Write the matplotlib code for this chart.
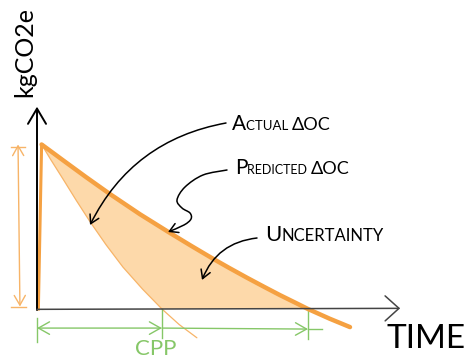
import matplotlib
matplotlib.use("Agg")
import matplotlib.pyplot as plt
import numpy as np
from matplotlib.path import Path
from matplotlib.patches import FancyArrowPatch
from matplotlib.transforms import IdentityTransform
from matplotlib.offsetbox import TextArea, HPacker, AnnotationBbox

# ---------------- data ----------------
peak = 100.0
pred_t = [0.17, 0.6, 0.97, 1.8, 2.69, 3.8, 4.91, 5.7, 6.49, 7.1, 7.75, 8.4, 8.97, 9.5, 10.0, 10.8, 11.55]
pred_v = [100, 94.8, 90.3, 80.3, 69.9, 57.6, 46.2, 38.3, 30.6, 24.9, 19.0, 13.3, 8.4, 4.1, 0, -5.9, -11.0]
act_t = [0.17, 0.5, 0.96, 1.45, 1.96, 2.55, 3.17, 3.9, 4.61, 5.25, 5.9]
act_v = [100, 91, 79, 66, 53, 39, 25.5, 12, 0, -9.5, -17.5]
cpp_t = 4.61        # actual crosses zero
pred_end_t = 10.0   # predicted crosses zero

ORANGE = "#F5A142"
ORANGE_L = "#F7B468"
FILL = "#FDD9AA"
GREEN = "#86C768"
FONT = ["Lato", "DejaVu Sans"]
W = "normal"

fig = plt.figure(figsize=(4.70, 3.61), dpi=100)
ax = fig.add_axes([0, 0, 1, 1])
ax.set_xlim(-37 / 27.1, 433 / 27.1)
ax.set_ylim(-52 / 1.645, 309 / 1.645)
ax.axis("off")

def px(x, y):
    return ((x - 37) / 27.1, (309 - y) / 1.645)

pt = np.array(pred_t); pv = np.array(pred_v)
at = np.array(act_t); av = np.array(act_v)

# uncertainty fill: between predicted (top) and actual / axis (bottom), above zero
mp = pv >= 0
ma = av >= 0
poly_t = np.concatenate([pt[mp], [cpp_t], at[ma][::-1]])
poly_v = np.concatenate([pv[mp], [0], av[ma][::-1]])
ax.fill(poly_t, poly_v, color=FILL, lw=0, zorder=1)

# curves
ax.plot(at, av, color=ORANGE_L, lw=0.9, zorder=2, solid_capstyle="round")
ax.plot(pt, pv, color=ORANGE, lw=3.2, zorder=3, solid_capstyle="round",
        solid_joinstyle="round")
ax.plot([0.05, pt[0]], [0, peak], color=ORANGE, lw=2.2, zorder=3)

# axes
ax.annotate("", xy=(0, 123), xytext=(0, -0.6),
            arrowprops=dict(arrowstyle="->,head_length=1.1,head_width=0.65",
                            color="black", lw=1.4, shrinkA=0, shrinkB=0), zorder=4)
ax.annotate("", xy=(13.4, 0.4), xytext=(0, -0.2),
            arrowprops=dict(arrowstyle="->,head_length=1.0,head_width=0.9",
                            color="#444444", lw=1.1, shrinkA=0, shrinkB=0), zorder=4)

# left magnitude marker
xm = -0.70
ax.annotate("", xy=(xm, peak), xytext=(xm + 0.07, 1.5),
            arrowprops=dict(arrowstyle="<->,head_length=0.7,head_width=0.4",
                            color=ORANGE_L, lw=1.0, shrinkA=0, shrinkB=0))
ax.plot([xm - 0.26, xm + 0.26], [peak - 1.5, peak - 1.5], color=ORANGE_L, lw=1.0)
ax.plot([xm - 0.26, xm + 0.3], [1.2, 1.2], color=ORANGE_L, lw=1.0)

# CPP dimension (green)
yd = -11.6
ax.plot([0, 0], [-5.5, -20], color=GREEN, lw=1.0)
ax.plot([cpp_t, cpp_t], [0, -17.5], color=GREEN, lw=1.0)
ax.plot([pred_end_t, pred_end_t], [0, -18], color=GREEN, lw=1.0)
ax.annotate("", xy=(0, yd), xytext=(cpp_t, yd),
            arrowprops=dict(arrowstyle="<->,head_length=0.8,head_width=0.45",
                            color=GREEN, lw=1.0, shrinkA=0, shrinkB=0))
ax.annotate("", xy=(pred_end_t, yd - 0.6), xytext=(cpp_t, yd),
            arrowprops=dict(arrowstyle="->,head_length=0.8,head_width=0.45",
                            color=GREEN, lw=1.0, shrinkA=0, shrinkB=0))
ax.plot([pred_end_t, pred_end_t + 0.52], [yd - 0.6, yd - 0.6], color=GREEN, lw=1.0)
ax.text(*px(156, 349), "CPP", color=GREEN, fontsize=16, ha="center", va="center",
        family=FONT, weight=W)

# axis labels
ax.text(*px(25, 52), "kgCO2e", rotation=90, fontsize=18, ha="center", va="center",
        family=FONT, weight=W)
ax.text(*px(426, 339), "TIME", fontsize=24, ha="center", va="center",
        family=FONT, weight=W)

# annotation labels in small-caps hand style
def smallcaps(x, y, parts):
    boxes = [TextArea(s, textprops=dict(fontsize=fs, color="black", family=FONT, weight=W))
             for s, fs in parts]
    pack = HPacker(children=boxes, align="baseline", pad=0, sep=0)
    ab = AnnotationBbox(pack, (x, y), xycoords="data", box_alignment=(0, 0.5),
                        frameon=False, pad=0)
    ax.add_artist(ab)

smallcaps(*px(232, 124), [("A", 15), ("CTUAL ", 9.5), ("ΔOC", 13)])
smallcaps(*px(235, 168), [("P", 15), ("REDICTED ", 9), ("ΔOC", 13)])
smallcaps(*px(265, 235), [("U", 16), ("NCERTAINTY", 12)])

# hand-drawn leader arrows (display pixels, smooth curve through guide points)
def leader(pts_px):
    P = np.array([(x, 361 - y) for x, y in pts_px], dtype=float)
    verts = [P[0]]
    codes = [Path.MOVETO]
    n = len(P)
    for i in range(n - 1):
        p0 = P[i - 1] if i > 0 else P[i]
        p1, p2 = P[i], P[i + 1]
        p3 = P[i + 2] if i + 2 < n else P[i + 1]
        c1 = p1 + (p2 - p0) / 6.0
        c2 = p2 - (p3 - p1) / 6.0
        verts += [c1, c2, p2]
        codes += [Path.CURVE4] * 3
    arr = FancyArrowPatch(path=Path(verts, codes), transform=IdentityTransform(),
                          arrowstyle="->,head_length=6,head_width=3.5",
                          color="black", lw=1.1, zorder=5)
    ax.add_artist(arr)

def arc_leader(p_from, p_to, rad):
    ax.annotate("", xy=px(*p_to), xytext=px(*p_from),
                arrowprops=dict(arrowstyle="->,head_length=0.6,head_width=0.35",
                                connectionstyle=f"arc3,rad={rad}",
                                color="black", lw=1.1, shrinkA=0, shrinkB=0), zorder=5)

arc_leader((226, 123), (90, 225), 0.25)
leader([(227, 170), (203, 175), (185, 187), (177, 200), (182, 208), (190, 213),
        (191, 219), (184, 225), (168, 232)])
arc_leader((257, 238), (202, 280), 0.3)

fig.savefig("out.png", dpi=100)
